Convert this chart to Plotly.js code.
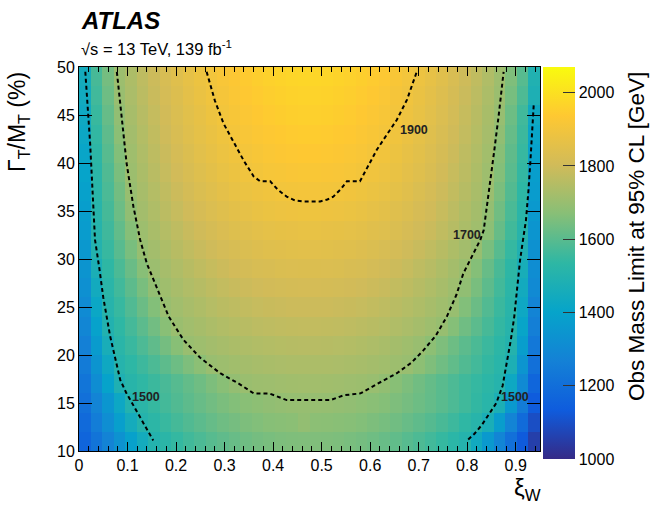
<!DOCTYPE html>
<html>
<head>
<meta charset="utf-8">
<script src="https://cdn.plot.ly/plotly-3.0.1.min.js"></script>
<style>html,body{margin:0;padding:0;background:#fff;}#chart{width:651px;height:505px;}</style>
</head>
<body>
<div id="chart"></div>
<script>
// xi_W bin centres (40 bins over 0 - 0.95)
const xiW = [0.01188,0.03563,0.05938,0.08313,0.10688,0.13063,0.15438,0.17813,0.20188,0.22563,
             0.24938,0.27313,0.29688,0.32063,0.34438,0.36813,0.39188,0.41563,0.43938,0.46313,
             0.48688,0.51063,0.53438,0.55813,0.58188,0.60563,0.62938,0.65313,0.67688,0.70063,
             0.72438,0.74813,0.77188,0.79563,0.81938,0.84313,0.86688,0.89063,0.91438,0.93813];
// Gamma_T/M_T (%) bin centres (20 bins over 10 - 50)
const gammaRatio = [11,13,15,17,19,21,23,25,27,29,31,33,35,37,39,41,43,45,47,49];
// Observed mass limit [GeV], one row per gammaRatio value
const massLimit = [
[1165,1222,1277,1334,1391,1448,1502,1524,1544,1564,1580,1596,1610,1622,1632,1641,1647,1653,1656,1658,1658,1656,1653,1648,1641,1632,1622,1611,1597,1582,1565,1546,1526,1504,1439,1361,1284,1207,1132,1055],
[1185,1252,1316,1383,1450,1506,1528,1550,1570,1588,1604,1619,1632,1643,1653,1661,1668,1673,1676,1690,1678,1676,1673,1669,1662,1654,1645,1635,1622,1608,1593,1576,1557,1536,1515,1469,1374,1280,1189,1095],
[1205,1279,1349,1423,1497,1524,1546,1568,1588,1606,1622,1637,1651,1662,1672,1680,1687,1692,1695,1697,1697,1695,1692,1688,1682,1674,1666,1655,1643,1630,1616,1599,1581,1562,1541,1519,1476,1361,1250,1135],
[1225,1313,1397,1485,1516,1536,1555,1575,1595,1614,1633,1653,1673,1693,1703,1708,1711,1714,1716,1717,1717,1716,1714,1711,1707,1702,1689,1671,1653,1635,1617,1599,1581,1562,1545,1527,1508,1428,1302,1170],
[1245,1341,1432,1507,1532,1557,1580,1605,1630,1655,1678,1701,1709,1716,1721,1726,1730,1733,1735,1736,1736,1735,1733,1730,1726,1721,1716,1709,1701,1680,1657,1634,1611,1588,1566,1543,1519,1477,1344,1205],
[1265,1368,1466,1520,1551,1581,1610,1641,1671,1701,1710,1719,1727,1734,1740,1745,1749,1752,1754,1755,1755,1754,1751,1748,1743,1737,1730,1722,1713,1702,1680,1655,1629,1604,1579,1554,1529,1503,1380,1235],
[1285,1392,1495,1534,1569,1604,1637,1672,1703,1715,1725,1735,1744,1752,1758,1764,1768,1772,1774,1775,1775,1774,1771,1768,1763,1757,1751,1742,1733,1723,1711,1698,1665,1634,1604,1573,1542,1510,1408,1260],
[1305,1419,1510,1548,1587,1626,1663,1701,1715,1728,1740,1751,1761,1769,1776,1782,1787,1790,1793,1794,1794,1793,1790,1787,1782,1775,1768,1760,1750,1739,1727,1714,1699,1661,1626,1589,1553,1517,1427,1280],
[1325,1445,1521,1563,1605,1647,1688,1712,1728,1742,1754,1766,1777,1786,1793,1800,1805,1809,1812,1813,1813,1812,1809,1805,1800,1793,1786,1776,1766,1754,1741,1727,1711,1686,1647,1606,1565,1524,1445,1300],
[1340,1472,1534,1579,1625,1670,1706,1724,1741,1756,1770,1783,1794,1804,1812,1819,1824,1829,1831,1833,1833,1831,1829,1824,1819,1811,1803,1793,1782,1769,1755,1739,1722,1703,1665,1620,1576,1531,1463,1315],
[1355,1500,1548,1598,1648,1698,1719,1738,1756,1772,1786,1799,1811,1821,1830,1837,1843,1847,1850,1852,1852,1850,1847,1843,1837,1830,1821,1811,1799,1786,1772,1756,1738,1719,1698,1647,1596,1545,1487,1330],
[1370,1509,1560,1613,1667,1708,1730,1750,1769,1786,1801,1815,1828,1839,1847,1855,1862,1866,1869,1871,1871,1869,1866,1862,1856,1848,1840,1829,1817,1803,1789,1772,1754,1734,1714,1679,1621,1564,1510,1345],
[1380,1514,1570,1628,1686,1719,1741,1762,1782,1800,1816,1831,1844,1856,1865,1873,1880,1885,1888,1890,1890,1888,1885,1880,1874,1865,1856,1845,1832,1817,1802,1784,1764,1743,1721,1693,1635,1577,1522,1360],
[1390,1520,1578,1639,1700,1726,1750,1772,1793,1812,1829,1845,1859,1871,1881,1889,1896,1902,1905,1907,1907,1905,1902,1897,1890,1881,1872,1860,1846,1830,1814,1795,1775,1753,1730,1705,1650,1590,1532,1370],
[1400,1524,1586,1651,1707,1734,1759,1782,1804,1823,1841,1857,1872,1884,1895,1904,1911,1916,1920,1922,1922,1920,1917,1911,1904,1895,1885,1873,1859,1843,1826,1806,1785,1762,1738,1711,1664,1601,1542,1380],
[1410,1531,1596,1663,1713,1741,1767,1790,1813,1833,1852,1868,1883,1896,1907,1916,1924,1929,1933,1935,1935,1933,1929,1924,1917,1907,1897,1884,1869,1853,1835,1815,1793,1769,1744,1717,1673,1609,1548,1395],
[1420,1541,1607,1677,1720,1748,1774,1799,1822,1843,1861,1878,1893,1906,1917,1927,1934,1940,1944,1946,1946,1944,1940,1935,1927,1918,1907,1894,1879,1862,1844,1824,1801,1777,1752,1724,1686,1619,1556,1410],
[1430,1552,1619,1688,1726,1755,1781,1806,1829,1851,1869,1887,1902,1916,1927,1937,1944,1950,1954,1956,1956,1954,1950,1944,1937,1927,1916,1903,1888,1870,1852,1831,1808,1783,1758,1729,1697,1629,1563,1430],
[1440,1563,1631,1702,1733,1762,1788,1813,1836,1858,1877,1894,1910,1923,1935,1944,1952,1958,1962,1964,1964,1962,1958,1952,1945,1935,1924,1910,1895,1878,1859,1838,1815,1789,1764,1735,1704,1644,1583,1480],
[1450,1573,1642,1707,1738,1768,1794,1820,1843,1865,1884,1902,1917,1931,1942,1952,1960,1966,1970,1972,1972,1970,1966,1960,1953,1943,1932,1918,1903,1885,1867,1846,1822,1797,1771,1742,1711,1657,1596,1490]
];
// Contour lines
const c1500L_x = [0.013,0.018,0.023,0.027,0.033,0.042,0.050,0.064,0.075,0.085,0.097,0.109,0.125,0.140,0.153];
const c1500L_y = [49.5,46,42,38,32,29,26,22,19.5,17.4,16.1,15,13.6,12.3,11.1];
const c1500R_x = [0.937,0.934,0.930,0.926,0.921,0.915,0.909,0.903,0.897,0.890,0.882,0.873,0.860,0.845,0.830,0.815,0.800];
const c1500R_y = [46,43,40,37,34,32,29.9,27,24,21.6,19.2,16.8,15,13.8,12.7,11.8,11.1];
const c1700_x = [0.078,0.088,0.098,0.112,0.126,0.140,0.160,0.185,0.215,0.250,0.291,0.330,0.360,0.392,0.428,0.470,0.518,0.545,0.580,0.615,0.655,0.685,0.710,0.735,0.758,0.778,0.792,0.810,0.827,0.834,0.845,0.855,0.865,0.875];
const c1700_y = [49.5,45,40,35.5,32,29.5,27.1,24,21.6,19.7,18.1,17,16,16,15.3,15.3,15.3,15.8,16,17,18.1,19.2,20.5,22,24,26.3,28.5,30.3,32,33,37,41,45,49.5];
const c1900_x = [0.263,0.280,0.298,0.320,0.340,0.360,0.373,0.394,0.410,0.428,0.445,0.462,0.497,0.512,0.524,0.540,0.552,0.579,0.595,0.614,0.635,0.655,0.676,0.696];
const c1900_y = [49.5,46.5,44.1,42,40.2,38.6,38.1,38.1,37.2,36.5,36.1,36,36,36.2,36.5,37.3,38.1,38.1,39.6,41.4,43,44.5,46.6,49.5];
const contourLabels = ["1500","1700","1900","1500"];
const labelX = [0.138,0.800,0.690,0.899];
const labelY = [15.6,32.5,43.4,15.6];

const bird = [[0,'rgb(53,42,135)'],[0.125,'rgb(15,92,221)'],[0.25,'rgb(20,129,214)'],[0.375,'rgb(6,164,202)'],
  [0.5,'rgb(46,183,164)'],[0.625,'rgb(135,191,119)'],[0.75,'rgb(209,187,89)'],[0.875,'rgb(254,200,50)'],[1,'rgb(249,251,14)']];

const F = 'Liberation Sans, Arial, Helvetica, sans-serif';
const PX0 = 79, PX1 = 540, PY0 = 67, PY1 = 451;
const W = PX1 - PX0, H = PY1 - PY0;
const px = v => (v - PX0) / W;
const py = v => (PY1 - v) / H;

const lineStyle = {color:'black', width:2, dash:'4px,3px'};
const traces = [
  {type:'heatmap', x:xiW, y:gammaRatio, z:massLimit, colorscale:bird, zmin:1000, zmax:2070,
   zsmooth:false, hoverinfo:'skip',
   colorbar:{x:px(543), xanchor:'left', xpad:0, ypad:0, thickness:32, thicknessmode:'pixels',
     len:392, lenmode:'pixels', y:py(263), yanchor:'middle', outlinewidth:0,
     tickvals:[1000,1200,1400,1600,1800,2000], ticks:'inside', ticklen:12, tickcolor:'#333',
     tickfont:{family:F, size:16, color:'#000'}}},
  {type:'scatter', mode:'lines', x:c1500L_x, y:c1500L_y, line:lineStyle, hoverinfo:'skip', showlegend:false},
  {type:'scatter', mode:'lines', x:c1500R_x, y:c1500R_y, line:lineStyle, hoverinfo:'skip', showlegend:false},
  {type:'scatter', mode:'lines', x:c1700_x, y:c1700_y, line:lineStyle, hoverinfo:'skip', showlegend:false},
  {type:'scatter', mode:'lines', x:c1900_x, y:c1900_y, line:lineStyle, hoverinfo:'skip', showlegend:false}
];

const annotations = contourLabels.map((t,i)=>({x:labelX[i], y:labelY[i], xref:'x', yref:'y', text:'<b>'+t+'</b>',
  showarrow:false, font:{family:F, size:12.5, color:'#222'}, xanchor:'center', yanchor:'middle'}));
annotations.push(
  {xref:'paper', yref:'paper', x:px(79), y:py(20), text:'<b><i>ATLAS</i></b>', showarrow:false,
   xanchor:'left', yanchor:'middle', font:{family:F, size:24, color:'#000'}},
  {xref:'paper', yref:'paper', x:px(79), y:py(48), text:'√s = 13 TeV, 139 fb<sup>-1</sup>', showarrow:false,
   xanchor:'left', yanchor:'middle', font:{family:F, size:16.5, color:'#000'}},
  {xref:'paper', yref:'paper', x:px(19), y:py(122), text:'Γ<sub>T</sub>/M<sub>T</sub> (%)', showarrow:false,
   textangle:-90, xanchor:'center', yanchor:'middle', font:{family:F, size:23, color:'#000'}},
  {xref:'paper', yref:'paper', x:px(527), y:py(489), text:'ξ<sub>W</sub>', showarrow:false,
   xanchor:'center', yanchor:'middle', font:{family:F, size:24, color:'#000'}},
  {xref:'paper', yref:'paper', x:px(636), y:py(237), text:'Obs Mass Limit at 95% CL [GeV]', showarrow:false,
   textangle:-90, xanchor:'center', yanchor:'middle', font:{family:F, size:22.5, color:'#000'}}
);

const layout = {
  width:651, height:505, margin:{l:PX0, r:651-PX1, t:PY0, b:505-PY1, pad:0},
  paper_bgcolor:'#fff', plot_bgcolor:'#fff', showlegend:false,
  xaxis:{range:[0,0.95], tick0:0, dtick:0.1, ticks:'inside', ticklen:9, tickcolor:'#000', tickwidth:1,
    showline:true, linecolor:'#000', linewidth:1, mirror:'ticks', showgrid:false, zeroline:false,
    tickfont:{family:F, size:16, color:'#000'},
    minor:{dtick:0.02, ticks:'inside', ticklen:5, tickcolor:'#000', showgrid:false}},
  yaxis:{range:[10,50], tick0:10, dtick:5, ticks:'inside', ticklen:13, tickcolor:'#000', tickwidth:1,
    showline:true, linecolor:'#000', linewidth:1, mirror:'ticks', showgrid:false, zeroline:false,
    tickfont:{family:F, size:16, color:'#000'}},
  annotations:annotations
};
Plotly.newPlot('chart', traces, layout, {displayModeBar:false, staticPlot:true});
</script>
</body>
</html>
